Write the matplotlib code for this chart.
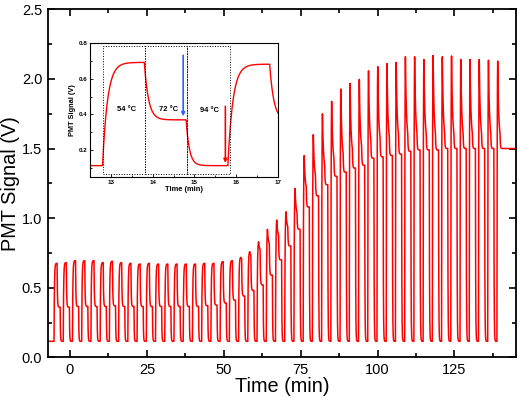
import numpy as np
import matplotlib
matplotlib.use("Agg")
import matplotlib.pyplot as plt
from matplotlib.ticker import MultipleLocator

plt.rcParams['font.family'] = ['Liberation Sans', 'DejaVu Sans']

# ---------------- data ----------------
cycle_start0 = -5.2      # start of first 54 °C step (min)
cycle_period = 3.0       # 54 / 72 / 94 °C, 1 min each
baseline = 0.115         # signal at 94 °C (V)
final_hold = 1.50        # final 72 °C hold level (V)
t_first, t_last = -7.3, 145.0

# per-cycle peak during 54 °C step (V)
peak = [0.675, 0.68, 0.694, 0.694, 0.694, 0.68, 0.69, 0.68, 0.675, 0.67,
        0.675, 0.67, 0.67, 0.67, 0.67, 0.67, 0.675, 0.675, 0.687, 0.694,
        0.718, 0.759, 0.83, 0.92, 0.986, 1.046, 1.214, 1.45, 1.60, 1.75,
        1.84, 1.93, 1.97, 2.00, 2.06, 2.09, 2.11, 2.12, 2.16, 2.16,
        2.14, 2.17, 2.16, 2.165, 2.14, 2.14, 2.14, 2.135, 2.13]
# per-cycle value at end of 54 °C step (V)
anneal_end = [0.675, 0.68, 0.694, 0.694, 0.694, 0.68, 0.69, 0.68, 0.675, 0.67,
              0.675, 0.67, 0.67, 0.67, 0.67, 0.67, 0.675, 0.675, 0.687, 0.694,
              0.70, 0.72, 0.76, 0.80, 0.86, 0.92, 1.02, 1.20, 1.28, 1.35,
              1.40, 1.43, 1.46, 1.48, 1.52, 1.54, 1.55, 1.56, 1.57, 1.57,
              1.57, 1.57, 1.57, 1.57, 1.57, 1.57, 1.57, 1.57, 1.57]
# per-cycle level during 72 °C step (V)
mid = [0.36, 0.36, 0.365, 0.365, 0.365, 0.365, 0.37, 0.365, 0.365, 0.365,
       0.365, 0.365, 0.365, 0.365, 0.365, 0.365, 0.37, 0.375, 0.39, 0.41,
       0.44, 0.48, 0.52, 0.59, 0.70, 0.80, 0.92, 1.08, 1.16, 1.24,
       1.30, 1.33, 1.36, 1.38, 1.43, 1.44, 1.45, 1.46, 1.48, 1.49,
       1.49, 1.49, 1.50, 1.50, 1.50, 1.50, 1.50, 1.50, 1.50]

# inset annotations
inset_boxes = [(12.8, 13.82), (13.82, 14.82), (14.82, 15.85)]
inset_labels = ["54 \u00b0C", "72 \u00b0C", "94 \u00b0C"]
inset_label_x = [13.38, 14.37, 15.36]
inset_label_y = [0.43, 0.43, 0.42]

# ---------------- build the trace ----------------
t = np.arange(t_first, t_last + 0.005, 0.005)
v = np.full_like(t, baseline)
n = len(peak)
for k in range(n):
    s = cycle_start0 + cycle_period * k
    P, A, M, B = peak[k], anneal_end[k], mid[k], baseline
    ratio = max(min((A - B) / (P - B), 1.0), 0.0)
    tp = 0.2 + 0.7 * ratio ** 8
    tr = min(0.12, tp / 3)
    m = (t >= s) & (t < s + 1)
    dt = t[m] - s
    g = (1 - np.exp(-dt / tr)) / (1 - np.exp(-tp / tr))
    rise = B + (P - B) * np.minimum(g, 1.0)
    dec = A + (P - A) * np.exp(-(dt - tp) / 0.3)
    v[m] = np.where(dt <= tp, rise, dec)
    v_end = A + (P - A) * np.exp(-(1 - tp) / 0.3)
    if k == n - 1:
        m = t >= s + 1
        dt = t[m] - s - 1
        lvl = M + (final_hold - M) * np.minimum(dt / 3.0, 1.0)
        v[m] = lvl + (v_end - M) * np.exp(-dt / 0.1)
    else:
        m = (t >= s + 1) & (t < s + 2)
        dt = t[m] - s - 1
        v[m] = M + (v_end - M) * np.exp(-dt / 0.1)
        m = (t >= s + 2) & (t < s + 3)
        dt = t[m] - s - 2
        v[m] = B + (M - B) * np.exp(-dt / 0.08)

# ---------------- figure ----------------
fig = plt.figure(figsize=(5.2, 3.98), dpi=100)
ax = fig.add_axes([47.7 / 520, 1 - 357.3 / 398, (516 - 47.7) / 520, (357.3 - 9.3) / 398])
ax.plot(t, v, color='#ff0000', lw=1.1)
ax.set_xlim(-7.25, 145)
ax.set_ylim(0, 2.5)
ax.xaxis.set_major_locator(MultipleLocator(25))
ax.xaxis.set_minor_locator(MultipleLocator(12.5))
ax.yaxis.set_major_locator(MultipleLocator(0.5))
ax.yaxis.set_minor_locator(MultipleLocator(0.25))
ax.yaxis.set_major_formatter(plt.FuncFormatter(lambda x, p: f"{x:.1f}"))
ax.tick_params(which='both', direction='in', top=True, right=True, width=1.2)
ax.tick_params(which='major', length=5, labelsize=10.5, pad=4)
ax.tick_params(which='minor', length=3)
for sp in ax.spines.values():
    sp.set_linewidth(1.3)
ax.set_xlabel("Time (min)", fontsize=14.3, labelpad=0)
ax.set_ylabel("PMT Signal (V)", fontsize=14.3, labelpad=1)

# inset
axi = fig.add_axes([90 / 520, 1 - 177.3 / 398, 188 / 520, 134.6 / 398])
axi.plot(t, v, color='#ff0000', lw=1.0)
axi.set_xlim(12.5, 17)
axi.set_ylim(0.05, 0.8)
axi.xaxis.set_major_locator(MultipleLocator(1))
axi.xaxis.set_minor_locator(MultipleLocator(0.5))
axi.yaxis.set_major_locator(MultipleLocator(0.2))
axi.yaxis.set_minor_locator(MultipleLocator(0.1))
axi.set_yticks([0.2, 0.4, 0.6, 0.8])
axi.tick_params(which='both', direction='in', width=0.6)
axi.tick_params(which='major', length=2.5, labelsize=4.5, pad=2)
axi.tick_params(which='minor', length=1.5)
for lab in axi.get_xticklabels() + axi.get_yticklabels():
    lab.set_fontweight('bold')
for sp in axi.spines.values():
    sp.set_linewidth(0.8)
axi.set_xlabel("Time (min)", fontsize=5.4, fontweight='bold', labelpad=1)
axi.set_ylabel("PMT Signal (V)", fontsize=5.3, fontweight='bold', labelpad=1.5)
for (x0, x1) in inset_boxes:
    axi.plot([x0, x1, x1, x0, x0], [0.07, 0.07, 0.783, 0.783, 0.07],
             color='black', lw=0.7, ls=':')
for lab, lx, ly in zip(inset_labels, inset_label_x, inset_label_y):
    axi.text(lx, ly, lab, fontsize=5.4, fontweight='bold', ha='center', va='center')
axi.annotate("", xy=(14.73, 0.39), xytext=(14.73, 0.73),
             arrowprops=dict(arrowstyle='-|>', color='#3060ff', lw=1.2,
                             mutation_scale=5, shrinkA=0, shrinkB=0))
axi.annotate("", xy=(15.74, 0.13), xytext=(15.74, 0.445),
             arrowprops=dict(arrowstyle='-|>', color='#ff0000', lw=1.2,
                             mutation_scale=5, shrinkA=0, shrinkB=0))

fig.savefig("out.png", dpi=100)
